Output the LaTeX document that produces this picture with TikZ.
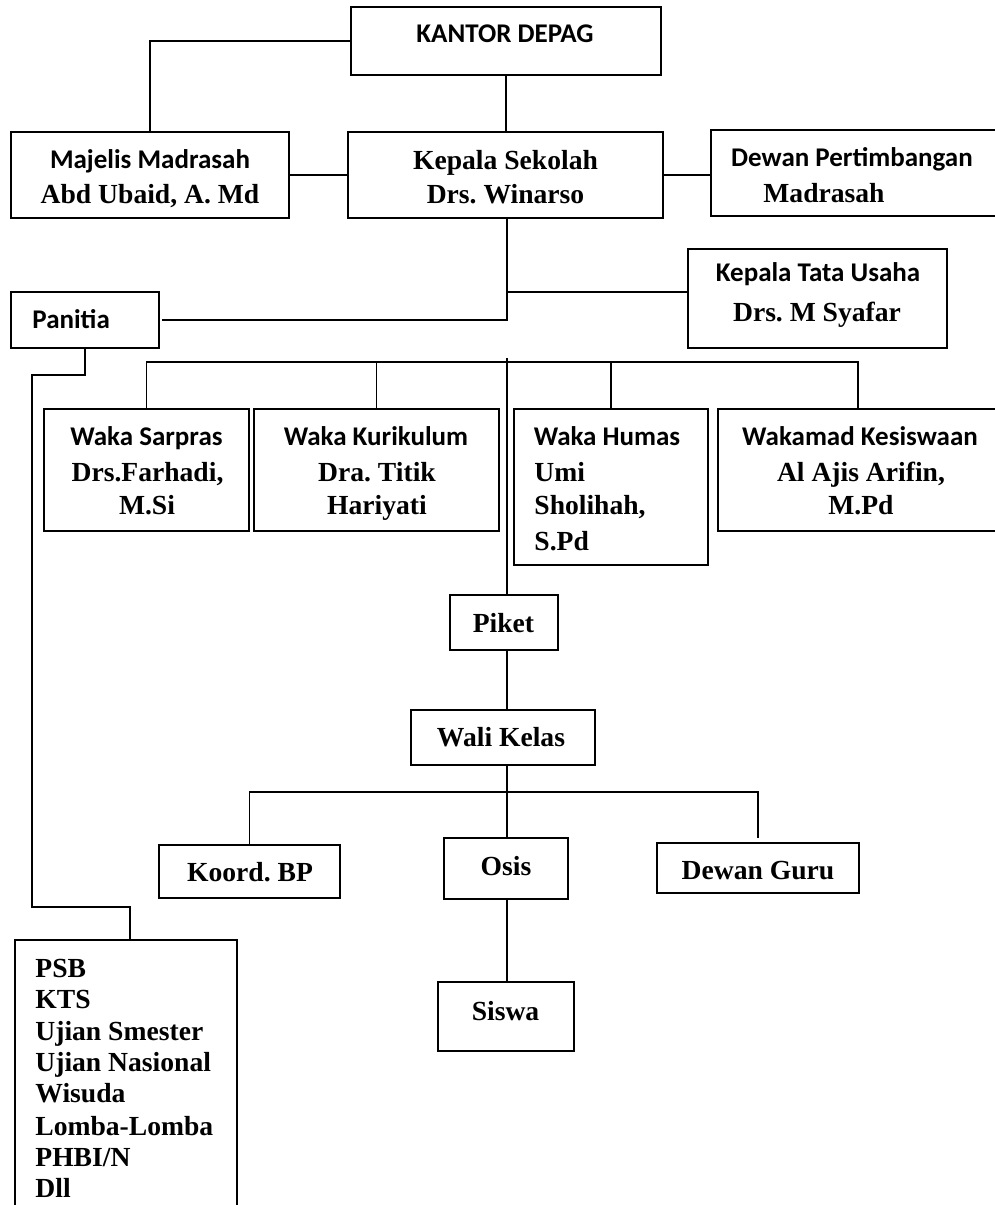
\documentclass[tikz,border=0pt]{standalone}
\usepackage{fontspec}
\setmainfont{Liberation Serif}
\newfontfamily\calib{Carlito}
\usetikzlibrary{fit}
\frenchspacing
\tikzset{
  box/.style={draw, line width=0.75pt, inner sep=0pt, outer sep=0pt},
  sanst/.style={font=\calib\bfseries\fontsize{13.5}{16}\selectfont, inner sep=0pt, anchor=base},
  serift/.style={font=\bfseries\fontsize{13.8}{16}\selectfont, inner sep=0pt, anchor=base},
  conn/.style={draw, line width=0.75pt}
}
\begin{document}
\begin{tikzpicture}[x=0.5pt, y=-0.5pt]
\path[use as bounding box] (0,0) rectangle (995,1205);
\clip (0,0) rectangle (995,1205);
\fill[white] (0,0) rectangle (995,1205);

% boxes
\node[box, fit={(351,7) (661,75)}] (kd) {};
\node[box, fit={(11,132) (289,218)}] (mm) {};
\node[box, fit={(348,132) (663,218)}] (ks) {};
\node[box, fit={(711,130) (1002,216)}] (dp) {};
\node[box, fit={(688,249) (947,348)}] (ktu) {};
\node[box, fit={(11,292) (159,348)}] (pa) {};
\node[box, fit={(44,409) (249,531)}] (sar) {};
\node[box, fit={(254,409) (499,531)}] (kur) {};
\node[box, fit={(514,409) (708,565)}] (hum) {};
\node[box, fit={(718,409) (998,531)}] (kes) {};
\node[box, fit={(450,595) (558,650)}] (pk) {};
\node[box, fit={(411,710) (595,765)}] (wk) {};
\node[box, fit={(159,845) (340,898)}] (kbp) {};
\node[box, fit={(444,838) (568,899)}] (os) {};
\node[box, fit={(657,843) (859,893)}] (dg) {};
\node[box, fit={(438,982) (574,1051)}] (sw) {};
\node[box, fit={(15,940) (237,1220)}] (psb) {};

% texts
\node[sanst] (t-kd) at (505,42.5) {KANTOR DEPAG};
\node[sanst] (t-mm1) at (150,168.5) {Majelis Madrasah};
\node[serift] (t-mm2) at (150,203) {Abd Ubaid, A. Md};
\node[serift] (t-ks1) at (505.5,169) {Kepala Sekolah};
\node[serift] (t-ks2) at (505.5,203) {Drs. Winarso};
\node[sanst] (t-dp1) at (852,166.5) {Dewan Pertimbangan};
\node[serift] (t-dp2) at (824,202) {Madrasah};
\node[sanst] (t-ktu1) at (818,281.5) {Kepala Tata Usaha};
\node[serift] (t-ktu2) at (817,321) {Drs. M Syafar};
\node[sanst, anchor=base west] (t-pa) at (32,328.5) {Panitia};
\node[sanst] (t-sar1) at (146.5,445.5) {Waka Sarpras};
\node[serift] (t-sar2) at (147.5,481) {Drs.Farhadi,};
\node[serift] (t-sar3) at (147,514) {M.Si};
\node[sanst] (t-kur1) at (376,445.5) {Waka Kurikulum};
\node[serift] (t-kur2) at (377,481) {Dra. Titik};
\node[serift] (t-kur3) at (377,514) {Hariyati};
\node[sanst] (t-hum1) at (607,445.5) {Waka Humas};
\node[serift, anchor=base west] (t-hum2) at (534,481) {Umi};
\node[serift, anchor=base west] (t-hum3) at (534,514) {Sholihah,};
\node[serift, anchor=base west] (t-hum4) at (534,550) {S.Pd};
\node[sanst] (t-kes1) at (860,445.5) {Wakamad Kesiswaan};
\node[serift] (t-kes2) at (861,481) {Al Ajis Arifin,};
\node[serift] (t-kes3) at (861,514) {M.Pd};
\node[serift] (t-pk) at (503.5,632) {Piket};
\node[serift] (t-wk) at (501,746.5) {Wali Kelas};
\node[serift] (t-kbp) at (250,881) {Koord. BP};
\node[serift] (t-os) at (506,875) {Osis};
\node[serift] (t-dg) at (758,879) {Dewan Guru};
\node[serift] (t-sw) at (505.5,1020) {Siswa};
\node[serift, anchor=base west] (t-l1) at (35,977) {PSB};
\node[serift, anchor=base west] (t-l2) at (35,1008) {KTS};
\node[serift, anchor=base west] (t-l3) at (35,1040) {Ujian Smester};
\node[serift, anchor=base west] (t-l4) at (35,1071) {Ujian Nasional};
\node[serift, anchor=base west] (t-l5) at (35,1102) {Wisuda};
\node[serift, anchor=base west] (t-l6) at (35,1135) {Lomba-Lomba};
\node[serift, anchor=base west] (t-l7) at (35,1166) {PHBI/N};
\node[serift, anchor=base west] (t-l8) at (35,1197) {Dll};

% helper coordinates
\coordinate (kb) at (507,292);
\coordinate (ct) at (507,358);
\coordinate (wb) at (507,362);
\coordinate (bb) at (507,792);
\coordinate (pl1) at (32,375);
\coordinate (pl2) at (32,907);
\coordinate (dgt) at (758,838);

% connectors
\draw[conn] (kd.west) -| (mm.north);
\draw[conn] (kd.south) -- (kd.south |- ks.north);
\draw[conn] (mm.east) -- (mm.east -| ks.west);
\draw[conn] (ks.east) -- (ks.east -| dp.west);
\draw[conn] (ks.south -| kb) |- ([xshift=1.5pt]pa.east);
\draw[conn] (kb) -- (kb -| ktu.west);
\draw[conn] (pa.south) |- (pl1) -- (pl2) -| ([xshift=2pt]psb.north);
\draw[conn] (sar.north) |- (kes.north |- wb) -- (kes.north);
\draw[conn] (kur.north) -- (kur.north |- wb);
\draw[conn] (hum.north) -- (hum.north |- wb);
\draw[conn] (ct) -- (ct |- pk.north);
\draw[conn] (pk.south -| ct) -- (wk.north -| ct);
\draw[conn] (wk.south -| ct) -- (os.north -| ct);
\draw[conn] (kbp.north) |- (dgt |- bb) -- (dgt);
\draw[conn] (os.south -| ct) -- (sw.north -| ct);
\end{tikzpicture}
\end{document}
